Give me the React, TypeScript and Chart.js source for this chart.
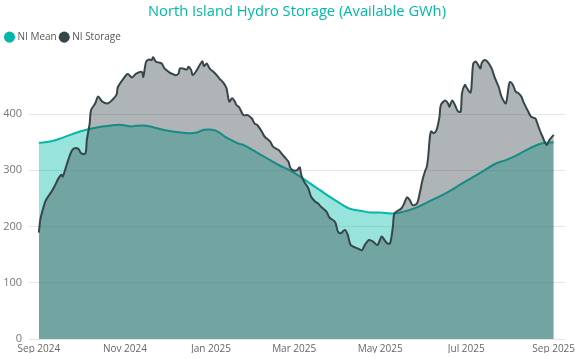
import React, { useEffect, useRef } from "react";
import { Chart, registerables } from "chart.js";

Chart.register(...registerables);

const chartTitle = "North Island Hydro Storage (Available GWh)";

// x values are days since 1 Sep 2024
const storageDays = [
  0, 1, 3, 5, 9, 11, 14, 16, 17, 20, 23, 25, 28, 30, 33, 34, 36, 37, 40, 42, 45, 49, 52, 55, 56, 60, 63, 66, 69,
  73, 74, 76, 78, 80, 81, 83, 87, 89, 92, 94, 97, 99, 100, 102, 105, 106, 108, 109, 112, 114, 116, 117, 119, 121,
  125, 128, 131, 133, 135, 137, 139, 140, 142, 145, 148, 151, 153, 155, 158, 160, 164, 166, 170, 172, 174, 177,
  178, 180, 183, 184, 185, 186, 188, 191, 193, 196, 198, 200, 204, 206, 210, 212, 214, 217, 219, 221, 224, 226,
  229, 231, 234, 237, 240, 243, 245, 247, 249, 251, 252, 255, 257, 259, 261, 263, 265, 268, 270, 272, 274, 275,
  276, 277, 278, 280, 282, 284, 285, 288, 290, 291, 293, 295, 297, 299, 300, 302, 303, 306, 307, 308, 310, 313,
  314, 316, 318, 321, 323, 326, 328, 331, 333, 334, 336, 338, 340, 342, 344, 347, 349, 352, 353, 355, 357, 360,
  362, 365,
];
const storageValues = [
  189, 212, 232, 247, 262, 271, 286, 292, 289, 312, 333, 339, 338, 330, 330, 354, 383, 407, 419, 431, 422, 419, 425,
  434, 448, 463, 471, 465, 472, 475, 466, 493, 497, 496, 501, 493, 490, 481, 475, 472, 469, 472, 481, 481, 479, 484,
  478, 469, 478, 487, 494, 485, 490, 481, 472, 463, 455, 446, 422, 428, 422, 416, 412, 398, 398, 392, 383, 380, 369,
  360, 351, 342, 336, 330, 324, 315, 306, 300, 300, 303, 305, 292, 280, 268, 253, 244, 241, 235, 226, 216, 208, 191,
  188, 194, 185, 167, 163, 161, 158, 167, 176, 173, 167, 182, 176, 170, 170, 200, 223, 229, 232, 241, 252, 247, 238,
  241, 259, 283, 300, 306, 324, 354, 369, 366, 372, 395, 416, 424, 419, 413, 424, 416, 405, 404, 437, 452, 448, 438,
  460, 490, 493, 481, 491, 496, 493, 481, 466, 448, 431, 419, 448, 457, 452, 440, 437, 431, 419, 404, 395, 392, 386,
  372, 360, 345, 354, 363,
];

const meanDays = [
  0, 8, 17, 29, 41, 50, 57, 65, 69, 76, 88, 95, 106, 112, 117, 125, 133, 142, 145, 155, 164, 171, 178, 185, 192,
  199, 206, 213, 220, 228, 235, 242, 251, 258, 268, 277, 289, 301, 312, 324, 331, 339, 348, 357, 365,
];
const meanValues = [
  349, 351, 358, 369, 376, 379, 381, 378, 379, 379, 372, 369, 366, 367, 372, 371, 358, 347, 345, 331, 318, 308, 300,
  289, 277, 265, 253, 242, 232, 228, 225, 225, 223, 226, 234, 245, 260, 278, 294, 312, 318, 327, 339, 348, 350,
];

const xTickDays = [0, 61, 122, 181, 242, 303, 365];
const xTickLabels = ["Sep 2024", "Nov 2024", "Jan 2025", "Mar 2025", "May 2025", "Jul 2025", "Sep 2025"];
const yTickValues = [0, 100, 200, 300, 400];

const FONT = "'Open Sans', 'Noto Sans', sans-serif";

export default function App() {
  const canvasRef = useRef<HTMLCanvasElement | null>(null);

  useEffect(() => {
    if (!canvasRef.current) return;
    const chart = new Chart(canvasRef.current, {
      type: "line",
      data: {
        datasets: [
          {
            label: "NI Storage",
            data: storageDays.map((d, i) => ({ x: d, y: storageValues[i] })),
            borderColor: "#374649",
            backgroundColor: "rgba(55,70,73,0.4)",
            fill: "origin",
            borderWidth: 2,
            pointRadius: 0,
            tension: 0.3,
          },
          {
            label: "NI Mean",
            data: meanDays.map((d, i) => ({ x: d, y: meanValues[i] })),
            borderColor: "#01B8AA",
            backgroundColor: "rgba(1,184,170,0.4)",
            fill: "origin",
            borderWidth: 2,
            pointRadius: 0,
            tension: 0.4,
          },
        ],
      },
      options: {
        animation: false,
        responsive: true,
        maintainAspectRatio: false,
        layout: { padding: { left: 2, right: 10, top: 0, bottom: 6 } },
        plugins: {
          title: {
            display: true,
            text: chartTitle,
            color: "#01B8AA",
            fullSize: false,
            font: { family: FONT, size: 14.7, weight: "normal" },
            padding: { top: 3, bottom: 7 },
          },
          legend: {
            display: true,
            position: "top",
            align: "start",
            reverse: true,
            labels: {
              usePointStyle: true,
              pointStyle: "circle",
              boxWidth: 6,
              boxHeight: 7.8,
              padding: 4.5,
              color: "#555",
              font: { family: FONT, size: 10 },
              generateLabels: (c: any) => {
                const items = (Chart.defaults as any).plugins.legend.labels.generateLabels(c);
                return items.map((it: any) => ({ ...it, fillStyle: it.strokeStyle, lineWidth: 0 }));
              },
            },
          },
          tooltip: { enabled: false },
        },
        scales: {
          x: {
            type: "linear",
            min: -7,
            max: 373,
            afterBuildTicks: (s: any) => {
              s.ticks = xTickDays.map((v) => ({ value: v }));
            },
            afterFit: (s: any) => {
              s.paddingLeft = 0;
              s.paddingRight = 0;
              s.height = 14;
            },
            ticks: {
              autoSkip: false,
              maxRotation: 0,
              padding: 4,
              color: "#666",
              font: { family: FONT, size: 10 },
              callback: (v: any) => {
                const i = xTickDays.indexOf(Number(v));
                return i >= 0 ? xTickLabels[i] : "";
              },
            },
            grid: { display: false, drawTicks: false },
            border: { display: false },
          },
          y: {
            min: 0,
            max: 510,
            afterBuildTicks: (s: any) => {
              s.ticks = yTickValues.map((v) => ({ value: v }));
            },
            afterFit: (s: any) => {
              s.width = 27;
            },
            ticks: {
              padding: 7,
              color: "#777",
              font: { family: FONT, size: 11 },
            },
            grid: { color: "#e6e6e6", drawTicks: false },
            border: { display: false },
          },
        },
      },
    });
    return () => chart.destroy();
  }, []);

  return (
    <div style={{ position: "absolute", left: 0, top: 0, width: 575, height: 359 }}>
      <canvas ref={canvasRef} />
    </div>
  );
}
